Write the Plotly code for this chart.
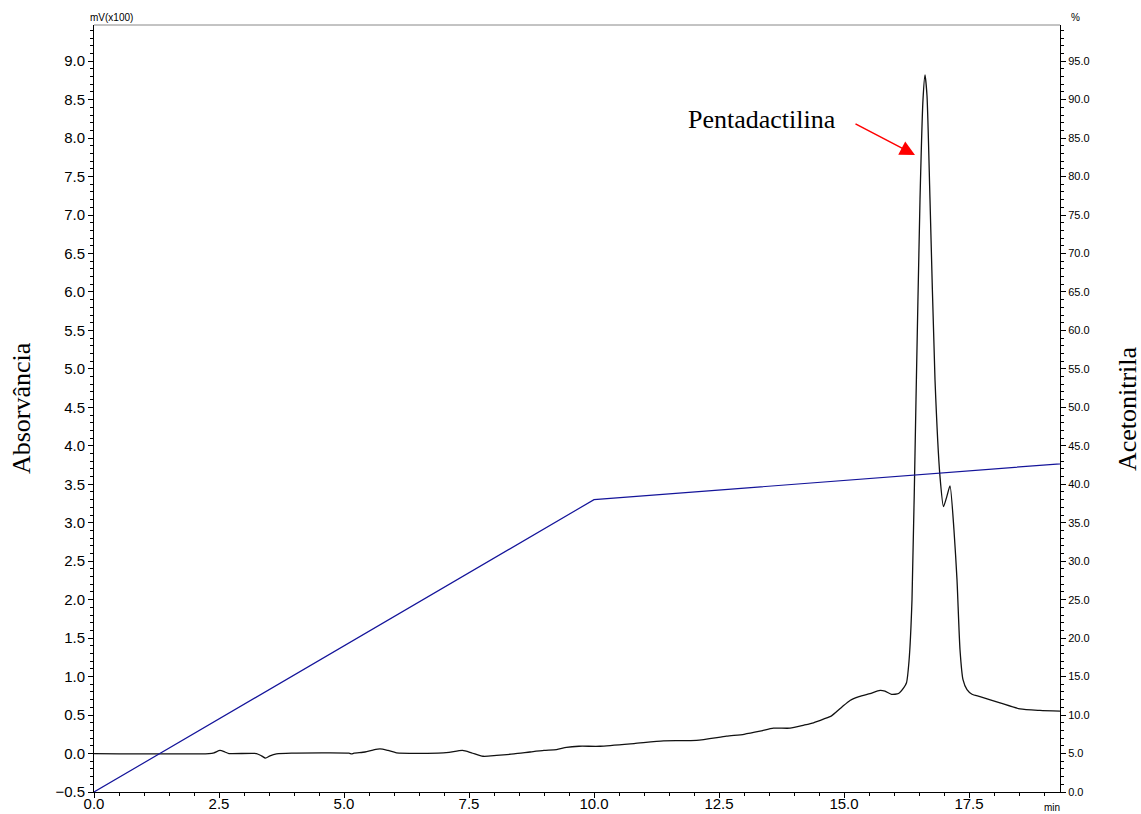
import plotly.graph_objects as go

# Chromatogram (absorbance, mV x100) vs retention time (min)
time_min = [0.0, 2.30, 2.40, 2.52, 2.62, 2.70, 3.25, 3.35, 3.43, 3.52, 3.65, 3.95,
            5.10, 5.15, 5.20, 5.42, 5.58, 5.72, 5.88, 6.05, 6.88, 7.10, 7.37, 7.55,
            7.78, 8.05, 8.40, 8.72, 9.00, 9.25, 9.45, 9.70, 10.12, 10.80, 11.39,
            12.05, 12.65, 13.00, 13.32, 13.59, 13.92, 14.20, 14.39, 14.60, 14.75,
            14.95, 15.12, 15.30, 15.52, 15.72, 15.82, 15.95, 16.09, 16.20, 16.25,
            16.30, 16.36, 16.44, 16.52, 16.58, 16.62, 16.66, 16.72, 16.82, 16.92,
            16.99, 17.06, 17.12, 17.20, 17.26, 17.32, 17.38, 17.46, 17.56, 17.72,
            18.12, 18.52, 18.92, 19.32]
absorbance = [0.0, 0.0, 0.01, 0.04, 0.02, 0.0, 0.0, -0.03, -0.06, -0.03, -0.005, 0.005,
              0.005, -0.005, 0.005, 0.02, 0.045, 0.06, 0.04, 0.01, 0.005, 0.015, 0.04, 0.01,
              -0.035, -0.025, -0.005, 0.02, 0.04, 0.05, 0.08, 0.095, 0.095, 0.13, 0.165,
              0.17, 0.225, 0.25, 0.29, 0.33, 0.33, 0.37, 0.40, 0.45, 0.49,
              0.60, 0.69, 0.74, 0.78, 0.82, 0.81, 0.77, 0.78, 0.86, 0.92,
              1.20, 2.00, 4.60, 7.20, 8.50, 8.82, 8.55, 7.20, 4.86, 3.60,
              3.21, 3.35, 3.48, 2.90, 2.26, 1.35, 0.96, 0.83, 0.77, 0.74,
              0.66, 0.58, 0.56, 0.55]

# Acetonitrile gradient (%)
grad_time = [0.0, 10.0, 20.0]
grad_pct = [0.0, 38.0, 43.0]

x_ticks = [0.0, 2.5, 5.0, 7.5, 10.0, 12.5, 15.0, 17.5]

SANS = "Liberation Sans, Arial, sans-serif"
SERIF = "Liberation Serif, Times New Roman, serif"

fig = go.Figure()
fig.add_trace(go.Scatter(
    x=time_min, y=absorbance, mode="lines",
    line=dict(color="#111111", width=1.3, shape="spline", smoothing=0.6),
    showlegend=False, hoverinfo="skip"))
fig.add_trace(go.Scatter(
    x=grad_time, y=grad_pct, mode="lines", yaxis="y2",
    line=dict(color="#14149a", width=1.2),
    showlegend=False, hoverinfo="skip"))

fig.update_layout(
    width=1141, height=814,
    margin=dict(l=94, r=81, t=25, b=22),
    paper_bgcolor="white", plot_bgcolor="white",
    font=dict(family=SANS, color="black"),
    xaxis=dict(range=[0, 19.32], tickvals=x_ticks, tickformat=".1f",
               automargin=False, ticklabelstandoff=-7,
               showgrid=False, zeroline=False, showline=True,
               linecolor="black", linewidth=1, ticks="outside", ticklen=5,
               tickcolor="black", tickfont=dict(size=15, family=SANS),
               minor=dict(dtick=0.5, ticks="outside", ticklen=3, tickcolor="black")),
    yaxis=dict(range=[-0.5, 9.47], dtick=0.5, tick0=0, tickformat=".1f",
               automargin=False,
               showgrid=False, zeroline=False, showline=True,
               linecolor="black", linewidth=1, ticks="outside", ticklen=5,
               tickcolor="black", tickfont=dict(size=15, family=SANS),
               minor=dict(dtick=0.1, ticks="outside", ticklen=3, tickcolor="black")),
    yaxis2=dict(range=[0, 99.7], dtick=5, tick0=0, tickformat=".1f",
                overlaying="y", side="right", anchor="x", automargin=False,
                showgrid=False, zeroline=False, showline=True,
                linecolor="black", linewidth=1, ticks="outside", ticklen=5,
                tickcolor="black", tickfont=dict(size=11, family=SANS),
                minor=dict(dtick=1, ticks="outside", ticklen=3, tickcolor="black")),
    shapes=[dict(type="line", xref="paper", yref="paper", x0=0, x1=1, y0=1, y1=1,
                 line=dict(color="#888888", width=1))],
    annotations=[
        dict(text="mV(x100)", xref="paper", yref="paper", x=0.0176, y=1.0,
             xanchor="center", yanchor="bottom", showarrow=False,
             font=dict(size=10, family=SANS)),
        dict(text="%", xref="paper", yref="paper", x=1.016, y=1.0,
             xanchor="center", yanchor="bottom", showarrow=False,
             font=dict(size=10, family=SANS)),
        dict(text="min", xref="paper", yref="paper", x=0.992, y=0,
             xanchor="center", yanchor="top", yshift=-8, showarrow=False,
             font=dict(size=10, family=SANS)),
        dict(text="Absorvância", xref="paper", yref="paper", x=-0.075, y=0.5,
             xanchor="center", yanchor="middle", textangle=-90, showarrow=False,
             font=dict(size=26, family=SERIF)),
        dict(text="Acetonitrila", xref="paper", yref="paper", x=1.07, y=0.5,
             xanchor="center", yanchor="middle", textangle=-90, showarrow=False,
             font=dict(size=26, family=SERIF)),
        dict(text="Pentadactilina", x=13.36, y=8.24, xref="x", yref="y",
             xanchor="center", yanchor="middle", showarrow=False,
             font=dict(size=26, family=SERIF)),
        dict(text="", x=16.42, y=7.78, xref="x", yref="y",
             ax=-61, ay=-32, axref="pixel", ayref="pixel",
             showarrow=True, arrowhead=2, arrowsize=2, arrowwidth=1.5,
             arrowcolor="#ff0000", standoff=0),
    ],
)

fig.write_html("out.html")
